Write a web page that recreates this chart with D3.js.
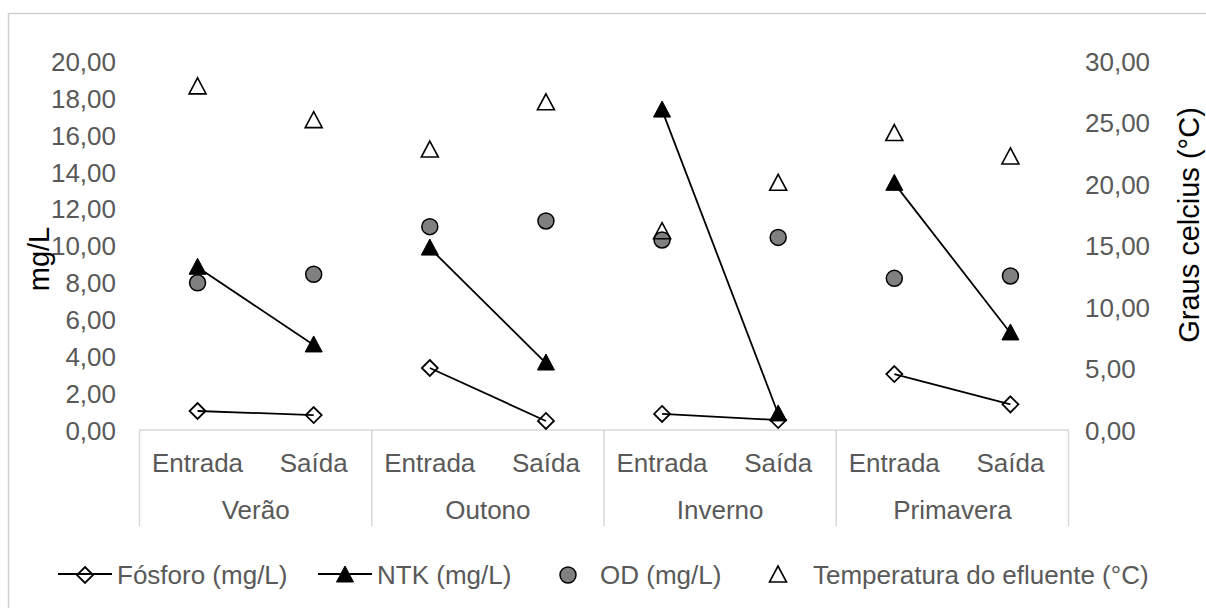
<!DOCTYPE html>
<html>
<head>
<meta charset="utf-8">
<script src="https://cdn.jsdelivr.net/npm/d3@7"></script>
<style>
  body { margin: 0; background: #fff; }
  svg { display: block; font-family: "Liberation Sans", Arial, sans-serif; }
</style>
</head>
<body>
<svg id="chart" width="1206" height="608"></svg>
<script>
var seasons = ["Verão", "Outono", "Inverno", "Primavera"];
var stages = ["Entrada", "Saída"];

// one value per season/stage pair, in order Verão-Entrada, Verão-Saída, ...
var fosforo = [1.03, 0.81, 3.36, 0.49, 0.87, 0.54, 3.03, 1.39];
var ntk = [8.82, 4.61, 9.86, 3.63, 17.34, 0.87, 13.37, 5.26];
var od = [7.98, 8.44, 11.02, 11.33, 10.30, 10.44, 8.22, 8.35];
var temperatura = [27.9, 25.15, 22.76, 26.6, 16.12, 20.06, 24.1, 22.2];

var leftTicks = [0, 2, 4, 6, 8, 10, 12, 14, 16, 18, 20];
var rightTicks = [0, 5, 10, 15, 20, 25, 30];

var legendNames = ["Fósforo (mg/L)", "NTK (mg/L)", "OD (mg/L)", "Temperatura do efluente (°C)"];

var svg = d3.select("#chart");

var plot = { left: 139.5, right: 1068.5, top: 61, bottom: 430 };
var labelColor = "#595959";
var gridColor = "#d9d9d9";

var keys = [];
seasons.forEach(function (s) {
  stages.forEach(function (st) { keys.push(s + "|" + st); });
});

var x = d3.scaleBand().domain(keys).range([plot.left, plot.right]).padding(0);
var xGroup = d3.scaleBand().domain(seasons).range([plot.left, plot.right]).padding(0);
var yLeft = d3.scaleLinear().domain([0, 20]).range([plot.bottom, plot.top]);
var yRight = d3.scaleLinear().domain([0, 30]).range([plot.bottom, plot.top]);

function cx(i) { return x(keys[i]) + x.bandwidth() / 2; }

var fmt = d3.formatLocale({ decimal: ",", thousands: ".", grouping: [3], currency: ["R$", ""] }).format(".2f");

// outer chart border (only the top and left edges are in view)
svg.append("path")
  .attr("d", "M8.5,608 L8.5,13.5 L1206,13.5")
  .attr("fill", "none")
  .attr("stroke", "#d0d0d0")
  .attr("stroke-width", 1.5);

// left axis
var leftAxis = svg.append("g")
  .attr("transform", "translate(116,0)")
  .call(d3.axisLeft(yLeft).tickValues(leftTicks).tickSize(0).tickPadding(0).tickFormat(fmt));
leftAxis.select(".domain").remove();
leftAxis.selectAll("text")
  .attr("fill", labelColor)
  .style("font-size", "26px")
  .attr("dy", "0.36em");

// right axis
var rightAxis = svg.append("g")
  .attr("transform", "translate(1085,0)")
  .call(d3.axisRight(yRight).tickValues(rightTicks).tickSize(0).tickPadding(0).tickFormat(fmt));
rightAxis.select(".domain").remove();
rightAxis.selectAll("text")
  .attr("fill", labelColor)
  .style("font-size", "26px")
  .attr("dy", "0.36em");

// axis titles
svg.append("text")
  .attr("transform", "translate(49,259) rotate(-90)")
  .attr("text-anchor", "middle")
  .style("font-size", "29px")
  .attr("fill", "#000")
  .text("mg/L");

svg.append("text")
  .attr("transform", "translate(1199,225) rotate(-90)")
  .attr("text-anchor", "middle")
  .style("font-size", "29px")
  .attr("fill", "#000")
  .text("Graus celcius (°C)");

// category axis: base line, group separators and two rows of labels
svg.append("line")
  .attr("x1", plot.left).attr("x2", plot.right)
  .attr("y1", plot.bottom).attr("y2", plot.bottom)
  .attr("stroke", gridColor).attr("stroke-width", 1.5);

var bounds = seasons.map(function (s) { return xGroup(s); }).concat([plot.right]);
svg.selectAll(".sep")
  .data(bounds)
  .enter().append("line")
  .attr("class", "sep")
  .attr("x1", function (d) { return d; }).attr("x2", function (d) { return d; })
  .attr("y1", plot.bottom).attr("y2", 526)
  .attr("stroke", gridColor).attr("stroke-width", 1.5);

svg.selectAll(".stage")
  .data(keys)
  .enter().append("text")
  .attr("class", "stage")
  .attr("x", function (d, i) { return cx(i); })
  .attr("y", 472)
  .attr("text-anchor", "middle")
  .attr("fill", labelColor)
  .style("font-size", "26px")
  .text(function (d) { return d.split("|")[1]; });

svg.selectAll(".season")
  .data(seasons)
  .enter().append("text")
  .attr("class", "season")
  .attr("x", function (d) { return xGroup(d) + xGroup.bandwidth() / 2; })
  .attr("y", 519)
  .attr("text-anchor", "middle")
  .attr("fill", labelColor)
  .style("font-size", "26px")
  .text(function (d) { return d; });

// marker shapes
var diamondPath = "M0,-8 L8,0 L0,8 L-8,0 Z";
var trianglePath = "M0,-9 L8.5,7 L-8.5,7 Z";

function drawMarker(g, type, px, py) {
  if (type === "diamond") {
    g.append("path").attr("d", diamondPath)
      .attr("transform", "translate(" + px + "," + py + ")")
      .attr("fill", "none").attr("stroke", "#000").attr("stroke-width", 1.8);
  } else if (type === "solidTriangle") {
    g.append("path").attr("d", trianglePath)
      .attr("transform", "translate(" + px + "," + py + ")")
      .attr("fill", "#000").attr("stroke", "#000").attr("stroke-width", 1);
  } else if (type === "circle") {
    g.append("circle").attr("cx", px).attr("cy", py).attr("r", 8)
      .attr("fill", "#808080").attr("stroke", "#000").attr("stroke-width", 1.5);
  } else if (type === "openTriangle") {
    g.append("path").attr("d", trianglePath)
      .attr("transform", "translate(" + px + "," + py + ")")
      .attr("fill", "none").attr("stroke", "#000").attr("stroke-width", 1.6);
  }
}

var line = d3.line()
  .x(function (d) { return d.x; })
  .y(function (d) { return d.y; });

// lines connect Entrada -> Saída inside each season
function drawPairs(values, scale) {
  var g = svg.append("g");
  seasons.forEach(function (s, si) {
    var pts = [0, 1].map(function (k) {
      var i = si * 2 + k;
      return { x: cx(i), y: scale(values[i]) };
    });
    g.append("path")
      .attr("d", line(pts))
      .attr("fill", "none")
      .attr("stroke", "#000")
      .attr("stroke-width", 1.8);
  });
  return g;
}

var ntkG = drawPairs(ntk, yLeft);
ntk.forEach(function (v, i) { drawMarker(ntkG, "solidTriangle", cx(i), yLeft(v)); });

var fosG = drawPairs(fosforo, yLeft);
fosforo.forEach(function (v, i) { drawMarker(fosG, "diamond", cx(i), yLeft(v)); });

var odG = svg.append("g");
od.forEach(function (v, i) { drawMarker(odG, "circle", cx(i), yLeft(v)); });

var tempG = svg.append("g");
temperatura.forEach(function (v, i) { drawMarker(tempG, "openTriangle", cx(i), yRight(v)); });

// legend
var legendY = 574;
var legend = svg.append("g");
var legendItems = [
  { type: "diamond", line: true, mx: 85, tx: 117 },
  { type: "solidTriangle", line: true, mx: 345, tx: 377 },
  { type: "circle", line: false, mx: 568, tx: 600 },
  { type: "openTriangle", line: false, mx: 778, tx: 813 }
];
legendItems.forEach(function (it, i) {
  if (it.line) {
    legend.append("line")
      .attr("x1", it.mx - 27).attr("x2", it.mx + 27)
      .attr("y1", legendY).attr("y2", legendY)
      .attr("stroke", "#000").attr("stroke-width", 1.8);
  }
  drawMarker(legend, it.type, it.mx, legendY + 1);
  legend.append("text")
    .attr("x", it.tx)
    .attr("y", legendY + 10)
    .attr("fill", labelColor)
    .style("font-size", "26px")
    .text(legendNames[i]);
});
</script>
</body>
</html>
